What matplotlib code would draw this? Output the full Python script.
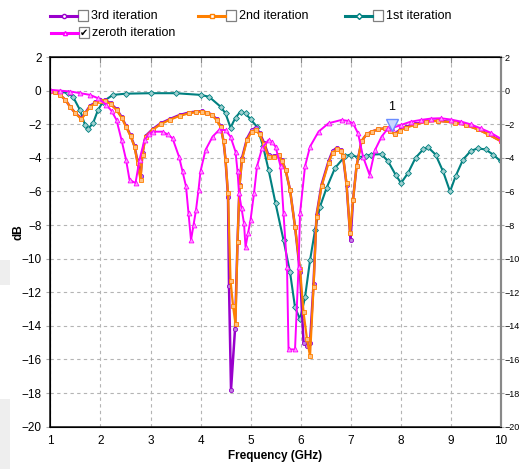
import numpy as np
import matplotlib
matplotlib.use('Agg')
import matplotlib.pyplot as plt
from matplotlib.lines import Line2D
from matplotlib.patches import Rectangle

plt.rcParams['font.family'] = ['Liberation Sans Narrow', 'Liberation Sans', 'DejaVu Sans']

# zeroth iteration
f0 = [1.0, 1.2, 1.4, 1.6, 1.79, 1.95, 2.12, 2.22, 2.32, 2.42, 2.51, 2.58, 2.70, 2.78, 2.88, 2.96,
      3.04, 3.24, 3.34, 3.44, 3.57, 3.64, 3.71, 3.76, 3.81, 3.86, 3.91, 3.96, 4.0, 4.1, 4.24, 4.37,
      4.5, 4.6, 4.7, 4.74, 4.77, 4.82, 4.87, 4.9, 4.95, 5.0, 5.07, 5.13, 5.23, 5.36, 5.43, 5.5,
      5.6, 5.66, 5.73, 5.76, 5.89, 5.96, 5.99, 6.09, 6.19, 6.36, 6.56, 6.82, 6.95, 7.05, 7.15,
      7.25, 7.38, 7.49, 7.62, 7.75, 7.82, 8.01, 8.2, 8.41, 8.61, 8.81, 9.01, 9.21, 9.4, 9.6, 9.8, 10.0]
s0 = [0.05, 0.0, -0.05, -0.15, -0.25, -0.45, -0.85, -1.2, -1.74, -2.93, -4.1, -5.3, -5.5, -4.1, -2.93, -2.6,
      -2.44, -2.44, -2.6, -2.83, -3.93, -4.8, -5.7, -7.3, -8.9, -8.0, -7.1, -5.9, -4.8, -3.53, -2.74, -2.34,
      -2.34, -2.74, -3.63, -4.8, -6.1, -7.0, -7.9, -9.3, -8.5, -7.7, -6.1, -4.5, -3.43, -2.93, -3.05, -3.33,
      -4.5, -7.3, -10.5, -15.4, -15.4, -10.5, -7.3, -4.5, -3.33, -2.44, -1.94, -1.74, -1.8, -1.94, -2.54,
      -3.93, -5.0, -3.53, -2.74, -2.24, -2.24, -2.04, -1.85, -1.74, -1.66, -1.64, -1.72, -1.84, -2.0, -2.24, -2.5, -2.85]

# 1st iteration
f1 = [1.0, 1.2, 1.35, 1.45, 1.59, 1.69, 1.75, 1.85, 1.95, 2.05, 2.25, 2.5, 3.0, 3.5, 4.0, 4.17,
      4.4, 4.5, 4.6, 4.7, 4.8, 4.9, 5.0, 5.13, 5.25, 5.36, 5.5, 5.66, 5.79, 5.89, 5.99, 6.09, 6.19,
      6.29, 6.39, 6.52, 6.69, 6.89, 7.0, 7.15, 7.3, 7.41, 7.62, 7.75, 7.9, 8.01, 8.15, 8.3, 8.45,
      8.55, 8.7, 8.85, 8.99, 9.1, 9.25, 9.4, 9.54, 9.7, 9.85, 10.0]
s1 = [0.0, -0.05, -0.15, -0.36, -1.15, -2.04, -2.28, -1.94, -1.15, -0.65, -0.25, -0.18, -0.15, -0.15, -0.25, -0.36,
      -0.95, -1.35, -2.2, -1.6, -1.25, -1.35, -1.7, -2.15, -3.3, -4.7, -6.7, -8.9, -10.8, -12.9, -13.6, -12.3, -10.1,
      -8.3, -6.9, -5.8, -4.6, -3.9, -3.8, -3.97, -3.9, -3.8, -3.78, -4.2, -5.0, -5.5, -4.9, -4.0, -3.5,
      -3.37, -3.8, -4.8, -6.0, -5.1, -4.1, -3.6, -3.43, -3.5, -3.8, -4.2]

# 2nd iteration
f2 = [1.0, 1.1, 1.19, 1.3, 1.39, 1.5, 1.62, 1.7, 1.79, 1.9, 2.0, 2.1, 2.2, 2.32, 2.42, 2.51, 2.6,
      2.68, 2.74, 2.8, 2.84, 2.9, 3.04, 3.2, 3.38, 3.58, 3.77, 3.9, 4.03, 4.13, 4.23, 4.32, 4.4, 4.46,
      4.5, 4.55, 4.6, 4.65, 4.7, 4.74, 4.78, 4.83, 4.93, 5.02, 5.1, 5.18, 5.27, 5.36, 5.46, 5.56, 5.63,
      5.7, 5.79, 5.89, 5.99, 6.06, 6.13, 6.19, 6.26, 6.32, 6.42, 6.56, 6.64, 6.72, 6.8, 6.85, 6.92,
      6.99, 7.05, 7.12, 7.22, 7.32, 7.42, 7.55, 7.68, 7.78, 7.88, 7.98, 8.1, 8.28, 8.5, 8.74, 9.08,
      9.3, 9.54, 9.75, 10.0]
s2 = [0.0, -0.1, -0.25, -0.55, -0.95, -1.35, -1.7, -1.35, -0.95, -0.75, -0.62, -0.6, -0.8, -1.15, -1.6, -2.14, -2.7,
      -3.33, -4.3, -5.3, -3.8, -2.74, -2.34, -2.0, -1.74, -1.5, -1.35, -1.28, -1.25, -1.32, -1.45, -1.75, -2.14, -3.0,
      -4.1, -6.1, -11.3, -12.8, -13.9, -9.0, -5.7, -4.1, -2.93, -2.45, -2.34, -2.6, -3.2, -3.93, -3.95, -3.83, -4.2,
      -4.7, -5.9, -8.1, -10.6, -13.2, -14.8, -15.8, -11.7, -7.5, -5.7, -4.3, -3.7, -3.5, -3.6, -3.9, -5.5,
      -8.5, -6.5, -4.5, -3.0, -2.6, -2.44, -2.3, -2.24, -2.4, -2.6, -2.4, -2.2, -2.05, -1.85, -1.8, -1.9,
      -2.05, -2.3, -2.6, -3.0]

# 3rd iteration
f3 = [1.0, 1.1, 1.19, 1.3, 1.39, 1.5, 1.62, 1.7, 1.79, 1.9, 2.0, 2.1, 2.2, 2.32, 2.42, 2.51, 2.6,
      2.68, 2.74, 2.8, 2.84, 2.9, 3.04, 3.2, 3.38, 3.58, 3.77, 3.9, 4.03, 4.13, 4.23, 4.32, 4.4, 4.46,
      4.5, 4.55, 4.57, 4.61, 4.69, 4.74, 4.78, 4.83, 4.93, 5.02, 5.1, 5.18, 5.27, 5.36, 5.46, 5.56, 5.63,
      5.7, 5.79, 5.89, 5.99, 6.06, 6.13, 6.19, 6.26, 6.32, 6.42, 6.56, 6.64, 6.72, 6.8, 6.85, 6.92,
      7.0, 7.05, 7.12, 7.22, 7.32, 7.42, 7.55, 7.68, 7.78, 7.88, 7.98, 8.1, 8.28, 8.5, 8.74, 9.08,
      9.3, 9.54, 9.75, 10.0]
s3 = [0.0, -0.1, -0.25, -0.55, -0.95, -1.35, -1.65, -1.3, -0.9, -0.7, -0.58, -0.56, -0.75, -1.1, -1.55, -2.1, -2.65,
      -3.3, -4.2, -5.1, -3.7, -2.7, -2.3, -1.95, -1.7, -1.45, -1.3, -1.25, -1.22, -1.3, -1.42, -1.7, -2.1, -3.0,
      -4.1, -6.3, -11.6, -17.8, -14.2, -9.0, -5.6, -4.0, -2.85, -2.35, -2.22, -2.5, -3.1, -3.85, -3.9, -3.8, -4.15,
      -4.7, -5.9, -8.1, -10.8, -15.0, -15.2, -15.0, -11.5, -7.4, -5.6, -4.2, -3.6, -3.4, -3.55, -3.9, -5.6,
      -8.9, -6.5, -4.5, -3.0, -2.6, -2.44, -2.3, -2.24, -2.4, -2.55, -2.35, -2.15, -2.0, -1.82, -1.78, -1.88,
      -2.02, -2.28, -2.58, -2.98]

marker_f = [7.83]
marker_db = [-2.05]

x_ticks = np.arange(1, 11)
y_ticks = np.arange(-20, 3, 2)

c_purple = '#9900CC'
c_orange = '#FF8000'
c_teal = '#008080'
c_magenta = '#FF00FF'

fig = plt.figure(figsize=(5.2, 4.69), dpi=100)
ax = fig.add_axes([0.0971, 0.0902, 0.8655, 0.7881])

ax.plot(f1, s1, color=c_teal, lw=1.5, marker='D', ms=3, mfc='#9fd0d0', mec=c_teal, mew=0.6, zorder=3)
ax.plot(f3, s3, color=c_purple, lw=1.8, marker='o', ms=3, mfc='#c080e0', mec=c_purple, mew=0.6, zorder=4)
ax.plot(f2, s2, color=c_orange, lw=1.6, marker='s', ms=3, mfc='#ffc080', mec=c_orange, mew=0.6, zorder=5)
ax.plot(f0, s0, color=c_magenta, lw=1.4, marker='^', ms=3.5, mfc='#ff99ff', mec=c_magenta, mew=0.6, zorder=6)

ax.plot(marker_f, marker_db, linestyle='none', marker='v', ms=8, mfc='#c8d8ff', mec='#6a8cff', mew=1, zorder=7)
ax.text(marker_f[0], marker_db[0] + 0.75, '1', ha='center', va='bottom', fontsize=9, zorder=8)

ax.set_xlim(1, 10)
ax.set_ylim(-20, 2)
ax.set_xticks(x_ticks)
ax.set_yticks(y_ticks)
ax.grid(True, color='#b4b4b4', linestyle=(0, (3, 3)), lw=0.8)
ax.tick_params(axis='x', direction='in', length=4, top=True, bottom=False, labelsize=8.5, pad=6, color='#888888')
ax.tick_params(axis='y', direction='out', length=3, labelsize=8.5, color='#aaaaaa')
for s in ['left', 'bottom', 'top']:
    ax.spines[s].set_color('#222222')
    ax.spines[s].set_linewidth(1.2)
ax.spines['right'].set_color('#888888')
ax.spines['right'].set_linewidth(1.5)

# right-hand copy of the dB scale (squeezed in at the figure edge)
ax2 = ax.twinx()
ax2.set_ylim(-20, 2)
ax2.set_yticks(y_ticks)
ax2.tick_params(axis='y', direction='out', length=2, labelsize=6.5, color='#aaaaaa', pad=1)
ax2.spines['right'].set_color('#888888')
ax2.spines['right'].set_linewidth(1.5)

ax.set_xlabel('Frequency (GHz)', fontsize=8.5, fontweight='bold', labelpad=2)
fig.text(18 / 520, 1 - 232 / 469, 'dB', rotation=90, ha='center', va='center', fontsize=8.5, fontweight='bold')

# light grey bits at the left edge
fig.patches.append(Rectangle((0, 1 - 285 / 469), 10 / 520, 25 / 469, transform=fig.transFigure,
                             facecolor='#eeeeee', edgecolor='none'))
fig.patches.append(Rectangle((0, 0), 10 / 520, 70 / 469, transform=fig.transFigure,
                             facecolor='#eeeeee', edgecolor='none'))

# legend with checkboxes
legend_items = [
    ('3rd iteration', c_purple, 'o', 50, 16, False),
    ('2nd iteration', c_orange, 's', 198, 16, False),
    ('1st iteration', c_teal, 'D', 345, 16, False),
    ('zeroth iteration', c_magenta, '^', 51, 33, True),
]
W, H = 520.0, 469.0
for label, col, mk, x0, y0, checked in legend_items:
    yy = 1 - y0 / H
    fig.add_artist(Line2D([x0 / W, (x0 + 27) / W], [yy, yy], color=col, lw=2.2, transform=fig.transFigure))
    fig.add_artist(Line2D([(x0 + 14) / W], [yy], marker=mk, ms=3, color=col, mfc='white', mec=col,
                          transform=fig.transFigure))
    fig.patches.append(Rectangle(((x0 + 28) / W, yy - 5.5 / H), 10 / W, 11 / H, transform=fig.transFigure,
                                 facecolor='white', edgecolor='#808080', lw=0.9))
    if checked:
        fig.text((x0 + 33) / W, yy, '\u2714', ha='center', va='center', fontsize=7,
                 family=['DejaVu Sans'])
    fig.text((x0 + 41) / W, yy, label, ha='left', va='center', fontsize=9)

fig.savefig('out.png', dpi=100)
